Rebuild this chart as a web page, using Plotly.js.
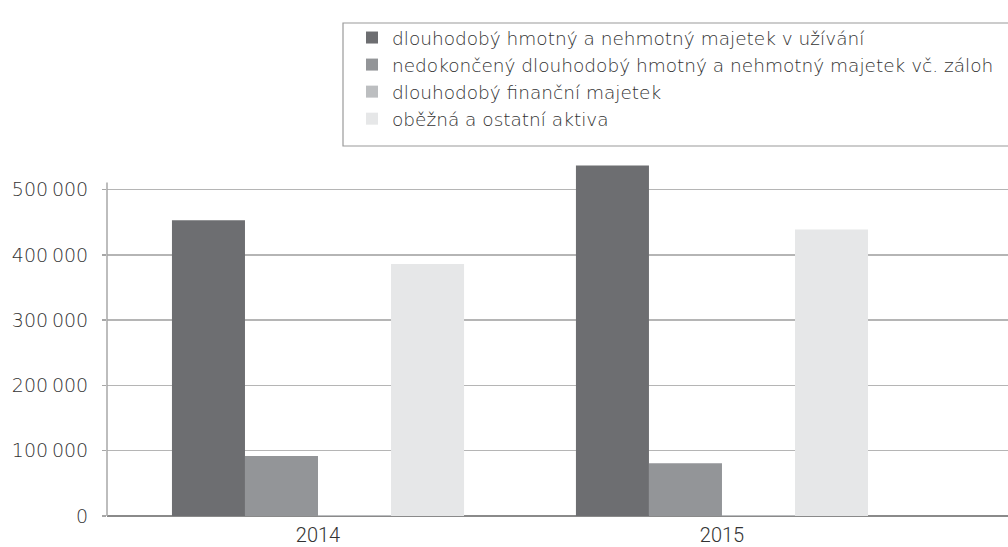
<!DOCTYPE html>
<html><head><meta charset="utf-8">
<script src="https://cdn.plot.ly/plotly-3.0.1.min.js"></script>
<style>html,body{margin:0;padding:0;background:#fff}#chart{width:1008px;height:547px}</style>
</head><body><div id="chart"></div>
<script>
const years = ['2014', '2015'];
const seriesNames = [
  'dlouhodobý hmotný a nehmotný majetek v užívání',
  'nedokončený dlouhodobý hmotný a nehmotný majetek vč. záloh',
  'dlouhodobý finanční majetek',
  'oběžná a ostatní aktiva'
];
const fixedAssets = [453000, 537000];
const unfinishedAssets = [92000, 81000];
const financialAssets = [1500, 1500];
const currentAssets = [386000, 439000];
const yTicks = [0, 100000, 200000, 300000, 400000, 500000];
const colors = ['#6d6e71', '#939598', '#bcbec0', '#e6e7e8'];

const values = [fixedAssets, unfinishedAssets, financialAssets, currentAssets];
const traces = values.map((v, i) => ({
  type: 'bar', x: years, y: v, name: seriesNames[i],
  marker: {color: colors[i], line: {width: 0}},
  hoverinfo: 'none'
}));

const ROBOTO = 'Roboto, Liberation Sans, Arial, sans-serif';
const DEJAVU = 'DejaVu Sans, Liberation Sans, Arial, sans-serif';
const layout = {
  width: 1008, height: 547,
  margin: {l: 107, r: 0, t: 157, b: 31, pad: 0, autoexpand: false},
  paper_bgcolor: '#fff', plot_bgcolor: '#fff',
  font: {family: ROBOTO, color: '#333', size: 18, weight: 300},
  separators: ',\u2009',
  barmode: 'group', bargap: 0.277, bargroupgap: 0,
  showlegend: true,
  legend: {
    x: (352 - 107) / 901, y: (516 - 19) / 359, xanchor: 'left', yanchor: 'top',
    bgcolor: 'rgba(0,0,0,0)', borderwidth: 0,
    font: {family: DEJAVU, size: 18.5, color: '#333', weight: 300}, traceorder: 'normal'
  },
  xaxis: {
    type: 'category', range: [-0.5223, 1.708],
    showgrid: false, showline: false, zeroline: false,
    ticks: '', ticklabelstandoff: 5,
    tickfont: {family: ROBOTO, size: 20, color: '#333', weight: 300}
  },
  yaxis: {
    range: [0, 550000], tickvals: yTicks, tickformat: ',d',
    showgrid: true, gridcolor: '#b5b5b5', gridwidth: 1.5,
    showline: false,
    zeroline: true, zerolinecolor: '#8a8a8a', zerolinewidth: 2,
    ticks: 'outside', ticklen: 4, tickcolor: '#a7a7a7', tickwidth: 1.5,
    ticklabelstandoff: 10,
    tickfont: {family: DEJAVU, size: 19, color: '#333', weight: 300}
  },
  shapes: [{
    type: 'line', xref: 'paper', yref: 'y',
    x0: 0, x1: 0, y0: 0, y1: 511000,
    line: {color: '#a7a7a7', width: 1.5}, layer: 'above'
  }, {
    type: 'rect', xref: 'paper', yref: 'paper',
    x0: (343 - 107) / 901, x1: (1020 - 107) / 901,
    y0: (516 - 146) / 359, y1: (516 - 23) / 359,
    line: {color: '#9a9a9a', width: 1.2}, fillcolor: 'rgba(0,0,0,0)', layer: 'below'
  }]
};

Plotly.newPlot('chart', traces, layout, {staticPlot: true, displayModeBar: false});
</script></body></html>
